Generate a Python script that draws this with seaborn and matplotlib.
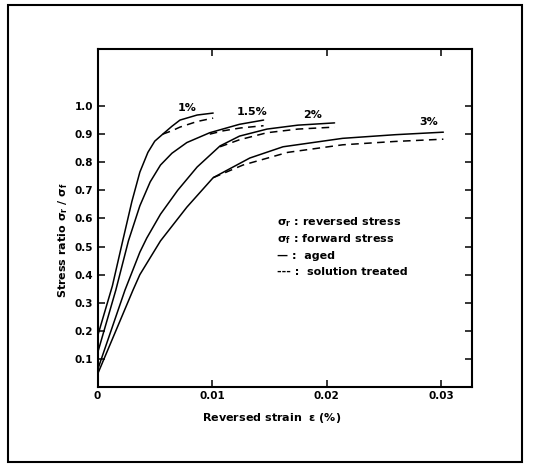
import numpy as np
import pandas as pd
import matplotlib
matplotlib.use("Agg")
import matplotlib.pyplot as plt
import seaborn as sns
from matplotlib.patches import Rectangle

# ---- data ----
x_1_aged = [0, 0.0013, 0.0022, 0.0030, 0.0037, 0.0044, 0.0050, 0.0057, 0.0065, 0.0072, 0.0087, 0.0101]
y_1_aged = [0.18, 0.36, 0.52, 0.66, 0.765, 0.835, 0.875, 0.90, 0.928, 0.95, 0.968, 0.975]
x_1_sol = [0.0057, 0.0065, 0.0072, 0.0087, 0.0101]
y_1_sol = [0.90, 0.912, 0.925, 0.945, 0.957]

x_15_aged = [0, 0.0016, 0.0027, 0.0037, 0.0046, 0.0055, 0.0065, 0.0078, 0.0098, 0.0124, 0.0145]
y_15_aged = [0.12, 0.345, 0.52, 0.645, 0.73, 0.79, 0.832, 0.87, 0.905, 0.935, 0.950]
x_15_sol = [0.0098, 0.0110, 0.0125, 0.0145]
y_15_sol = [0.90, 0.912, 0.922, 0.930]

x_2_aged = [0, 0.0024, 0.0037, 0.0043, 0.0055, 0.0070, 0.0087, 0.0107, 0.0124, 0.0148, 0.0175, 0.0207]
y_2_aged = [0.06, 0.345, 0.48, 0.53, 0.615, 0.70, 0.783, 0.858, 0.893, 0.918, 0.932, 0.940]
x_2_sol = [0.0107, 0.0124, 0.0148, 0.0175, 0.0207]
y_2_sol = [0.855, 0.88, 0.905, 0.918, 0.925]

x_3_aged = [0, 0.0031, 0.0037, 0.0055, 0.0078, 0.0101, 0.0133, 0.0162, 0.0214, 0.0260, 0.0302]
y_3_aged = [0.045, 0.345, 0.40, 0.52, 0.64, 0.745, 0.815, 0.855, 0.885, 0.898, 0.907]
x_3_sol = [0.0101, 0.0127, 0.0166, 0.0214, 0.0260, 0.0302]
y_3_sol = [0.745, 0.79, 0.835, 0.862, 0.874, 0.882]

curve_labels = ["1%", "1.5%", "2%", "3%"]
label_x = [0.0078, 0.0135, 0.0188, 0.0289]
label_y = [0.993, 0.979, 0.968, 0.943]

xticks = [0, 0.01, 0.02, 0.03]
xtick_labels = ["0", "0.01", "0.02", "0.03"]
yticks = [0.1, 0.2, 0.3, 0.4, 0.5, 0.6, 0.7, 0.8, 0.9, 1.0]
ytick_labels = ["0.1", "0.2", "0.3", "0.4", "0.5", "0.6", "0.7", "0.8", "0.9", "1.0"]

legend_lines = [r"$\sigma_r$ : reversed stress",
                r"$\sigma_f$ : forward stress",
                "— :  aged",
                "--- :  solution treated"]

# ---- build table ----
frames = []
for name, (xa, ya, xs, ys) in {
    "1%": (x_1_aged, y_1_aged, x_1_sol, y_1_sol),
    "1.5%": (x_15_aged, y_15_aged, x_15_sol, y_15_sol),
    "2%": (x_2_aged, y_2_aged, x_2_sol, y_2_sol),
    "3%": (x_3_aged, y_3_aged, x_3_sol, y_3_sol),
}.items():
    frames.append(pd.DataFrame({"strain": xa, "ratio": ya, "curve": name, "cond": "aged"}))
    frames.append(pd.DataFrame({"strain": xs, "ratio": ys, "curve": name, "cond": "solution treated"}))
df = pd.concat(frames, ignore_index=True)
df["key"] = df["curve"] + "_" + df["cond"]

sns.set_style("ticks")
plt.rcParams["font.family"] = ["DejaVu Sans"]
plt.rcParams["mathtext.default"] = "regular"
plt.rcParams["text.color"] = "black"
plt.rcParams["axes.labelcolor"] = "black"

fig = plt.figure(figsize=(5.39, 4.65), dpi=100)
ax = fig.add_axes([97.5 / 539, 1 - 387 / 465, 374.5 / 539, 338 / 465])

for key, sub in df.groupby("key"):
    dashed = sub["cond"].iloc[0] == "solution treated"
    sns.lineplot(data=sub, x="strain", y="ratio", ax=ax, color="black",
                 linewidth=1.1, linestyle=(0, (5, 3.5)) if dashed else "-",
                 sort=True, estimator=None, legend=False,
                 solid_joinstyle="round")

ax.set_xlim(0, 0.0327)
ax.set_ylim(0, 1.203)
ax.set_xticks(xticks)
ax.set_xticklabels(xtick_labels)
ax.set_yticks(yticks)
ax.set_yticklabels(ytick_labels)
ax.tick_params(direction="in", length=5, width=1.1, top=True, right=True,
               labelsize=7.5, pad=3, colors="black")
for lab in ax.get_xticklabels() + ax.get_yticklabels():
    lab.set_fontweight("bold")
for s in ax.spines.values():
    s.set_linewidth(1.5)
    s.set_color("black")

ax.set_xlabel(r"Reversed strain  $\epsilon$ (%)", fontsize=8, fontweight="bold")
ax.set_ylabel(r"Stress ratio $\sigma_r$ / $\sigma_f$", fontsize=8, fontweight="bold")
ax.xaxis.set_label_coords(0.466, -0.071)
ax.yaxis.set_label_coords(-0.073, 0.435)

for t, lx, ly in zip(curve_labels, label_x, label_y):
    ax.text(lx, ly, t, ha="center", va="center", fontsize=8, fontweight="bold")

leg_y = [0.488, 0.438, 0.388, 0.340]
for t, yy in zip(legend_lines, leg_y):
    ax.text(0.479, yy, t, transform=ax.transAxes, ha="left", va="center",
            fontsize=8, fontweight="bold")

fig.patches.append(Rectangle((8 / 539, 1 - 462 / 465), (522 - 8) / 539, (462 - 5) / 465,
                             transform=fig.transFigure, fill=False,
                             edgecolor="black", linewidth=1.5))

fig.savefig("out.png", dpi=100)
